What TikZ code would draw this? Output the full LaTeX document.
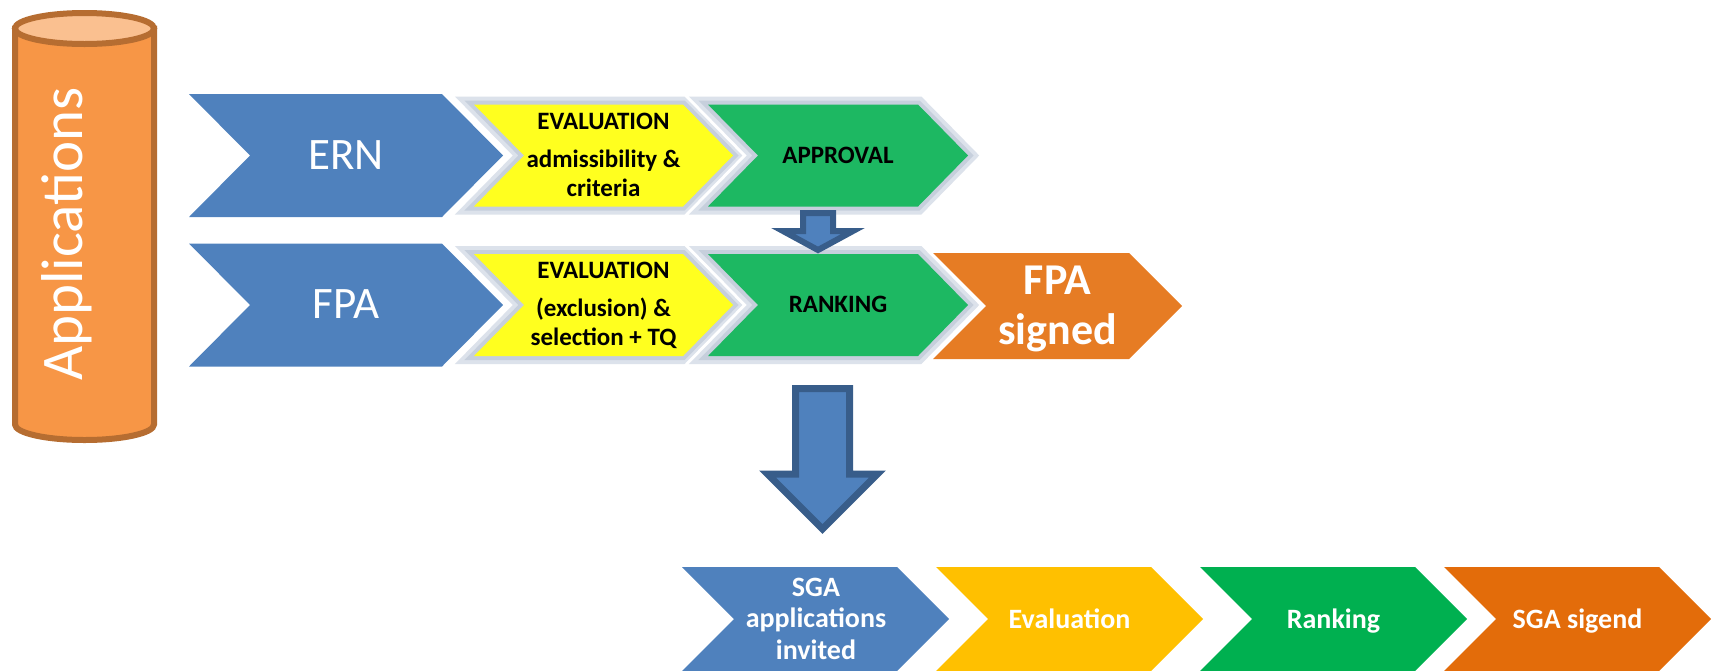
\documentclass[tikz,border=0pt]{standalone}
\usepackage{fontspec}
\setmainfont{Carlito}
\definecolor{cBlue}{HTML}{4F81BD}
\definecolor{cBlueDk}{HTML}{385D8A}
\definecolor{cYel}{HTML}{FFFF1F}
\definecolor{cGrnT}{HTML}{1DB862}
\definecolor{cOrT}{HTML}{E67C24}
\definecolor{cAmb}{HTML}{FFC000}
\definecolor{cGrnB}{HTML}{00B050}
\definecolor{cOrB}{HTML}{E36C0A}
\definecolor{cCyl}{HTML}{F79646}
\definecolor{cCylTop}{HTML}{FAC090}
\definecolor{cCylLine}{HTML}{B66D31}
\definecolor{cRimA}{HTML}{DCE2EB}
\definecolor{cRimB}{HTML}{C6CFDC}
% #1 options, #2 left x, #3 centre y, #4 width, #5 half height, #6 point depth
\newcommand\chevshape[6]{\path[#1] (#2,#3-#5) -- (#2+#4-#6,#3-#5) -- (#2+#4,#3) -- (#2+#4-#6,#3+#5) -- (#2,#3+#5) -- (#2+#6,#3) -- cycle;}
\newcommand\rimchev[6]{%
  \chevshape{draw=white,line width=22pt}{#2}{#3}{#4}{#5}{#6}%
  \chevshape{draw=cRimA,line width=16pt}{#2}{#3}{#4}{#5}{#6}%
  \chevshape{draw=cRimB,line width=8pt}{#2}{#3}{#4}{#5}{#6}%
  \chevshape{fill=#1}{#2}{#3}{#4}{#5}{#6}}
\begin{document}
\begin{tikzpicture}[x=1pt,y=-1pt,
  wtxt/.style={text=white,inner sep=0pt,align=center},
  ktxt/.style={text=black,inner sep=0pt,align=center,font=\fontsize{25}{29}\selectfont\bfseries},
  blockarrow/.style={draw=cBlueDk,fill=cBlue,line join=miter}]
\useasboundingbox (0,0) rectangle (1711,670);
% cylinder
\path[fill=cCyl,draw=cCylLine,line width=6pt] (15,28.5) -- (15,424.5)
  arc[start angle=180,end angle=0,x radius=69.5,y radius=15.5] -- (154,28.5) -- cycle;
\path[fill=cCylTop,draw=cCylLine,line width=6pt] (84.5,28.5) ellipse [x radius=69.5,y radius=15.5];
\node[wtxt,rotate=90,anchor=base,font=\fontsize{59}{70}\selectfont] (apps) at (82,234) {Applications};
% row 1
\chevshape{fill=cBlue}{189}{155.5}{314}{61.5}{61}
\rimchev{cYel}{474}{155.5}{259}{51}{50}
\rimchev{cGrnT}{708}{155.5}{260}{51}{50}
\node[wtxt,anchor=base,font=\fontsize{45}{54}\selectfont] (ern) at (346,169) {ERN};
\node[ktxt] (evalA) at (603.5,154.5) {EVALUATION\\[9pt]admissibility \&\\criteria};
\node[ktxt,anchor=base] (approval) at (838,163) {APPROVAL};
% row 2
\chevshape{fill=cBlue}{189}{305}{314}{61.5}{61}
\rimchev{cYel}{474}{305}{259}{51}{50}
\rimchev{cGrnT}{708}{305}{260}{51}{50}
\chevshape{fill=cOrT}{933}{306}{249}{53}{53}
\node[wtxt,anchor=base,font=\fontsize{45}{54}\selectfont] (fpa) at (346,318.5) {FPA};
\node[ktxt] (evalB) at (603.5,305.5) {EVALUATION\\[9pt](exclusion) \&\\selection + TQ};
\node[ktxt,anchor=base] (ranking) at (838,312) {RANKING};
\node[wtxt,font=\fontsize{44}{50}\selectfont\bfseries] (fpasigned) at (1057.5,308.5) {FPA\\signed};
% block arrows
\path[blockarrow,line width=6pt] (803,213) -- (833,213) -- (833,231) -- (853,231) -- (818,250)
  -- (783,231) -- (803,231) -- cycle;
\path[blockarrow,line width=7pt] (795.5,388.5) -- (849.5,388.5) -- (849.5,474) -- (877.5,474)
  -- (822.5,529) -- (767.5,474) -- (795.5,474) -- cycle;
% bottom row
\chevshape{fill=cBlue}{682}{619}{267}{52}{52}
\chevshape{fill=cAmb}{936}{619}{267}{52}{52}
\chevshape{fill=cGrnB}{1200}{619}{267}{52}{52}
\chevshape{fill=cOrB}{1444}{619}{267}{52}{52}
\node[wtxt,font=\fontsize{28}{31.5}\selectfont\bfseries] (sga) at (816,618.5) {SGA\\applications\\invited};
\node[wtxt,anchor=base,font=\fontsize{28}{34}\selectfont\bfseries] (evalC) at (1069.5,628) {Evaluation};
\node[wtxt,anchor=base,font=\fontsize{28}{34}\selectfont\bfseries] (rankC) at (1333.5,628) {Ranking};
\node[wtxt,anchor=base,font=\fontsize{28}{34}\selectfont\bfseries] (sgasigned) at (1577.5,628) {SGA sigend};
\end{tikzpicture}
\end{document}
